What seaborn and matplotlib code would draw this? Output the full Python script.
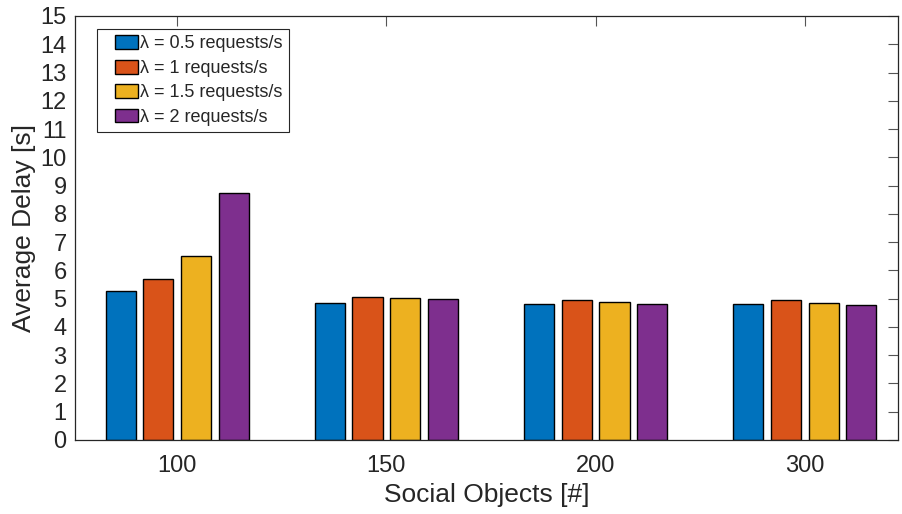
import matplotlib
matplotlib.use("Agg")
import matplotlib.pyplot as plt
from matplotlib.patches import Rectangle
from matplotlib.legend_handler import HandlerPatch
import seaborn as sns
import pandas as pd

categories = ["100", "150", "200", "300"]
series = ["λ = 0.5 requests/s", "λ = 1 requests/s", "λ = 1.5 requests/s", "λ = 2 requests/s"]
lam_05 = [5.27, 4.86, 4.81, 4.81]
lam_1 = [5.70, 5.05, 4.95, 4.95]
lam_15 = [6.52, 5.02, 4.88, 4.85]
lam_2 = [8.75, 4.99, 4.81, 4.78]
colors = ["#0072BD", "#D95319", "#EDB120", "#7E2F8E"]

rows = []
for s, vals in zip(series, [lam_05, lam_1, lam_15, lam_2]):
    for c, v in zip(categories, vals):
        rows.append({"cat": c, "series": s, "val": v})
df = pd.DataFrame(rows)

sns.set_theme(style="white")
plt.rcParams["font.family"] = ["Liberation Sans", "DejaVu Sans"]

fig = plt.figure(figsize=(9.02, 5.14), dpi=100)
ax = fig.add_axes([75/902, 1 - 440/514, (898-75)/902, (440-16)/514])

sns.barplot(data=df, x="cat", y="val", hue="series", hue_order=series,
            order=categories, palette=colors, width=0.72, gap=0.2,
            edgecolor="black", linewidth=1.0, saturation=1, ax=ax,
            errorbar=None)

ax.set_xlim(-0.488, 3.445)
ax.set_ylim(0, 15)
ax.set_yticks(range(0, 16))
ax.set_xlabel("Social Objects [#]", fontsize=19, labelpad=4)
ax.set_ylabel("Average Delay [s]", fontsize=19, labelpad=3)
ax.tick_params(axis="both", direction="in", length=7, width=0.8, color="#555555",
               labelsize=17, top=True, right=True, labelcolor="#262626")
ax.tick_params(axis="y", pad=6)
ax.tick_params(axis="x", pad=11)
for sp in ax.spines.values():
    sp.set_visible(True)
    sp.set_color("#262626")
    sp.set_linewidth(0.9)


def right_patch(legend, orig_handle, xdescent, ydescent, width, height, fontsize):
    frac = 0.66
    return Rectangle((-xdescent + width * (1 - frac), -ydescent), width * frac, height)


handles, labels = ax.get_legend_handles_labels()
if ax.get_legend():
    ax.get_legend().remove()
leg = ax.legend(handles, labels, loc="upper left", bbox_to_anchor=(22/823, 1 - 13/424),
                fontsize=13, frameon=True, fancybox=False, edgecolor="#262626",
                framealpha=1, handlelength=1.94, handleheight=0.8, handletextpad=0.08,
                labelspacing=0.4, borderpad=0.35, borderaxespad=0,
                handler_map={Rectangle: HandlerPatch(patch_func=right_patch)})
leg.get_frame().set_linewidth(0.8)

fig.savefig("out.png", dpi=100)
